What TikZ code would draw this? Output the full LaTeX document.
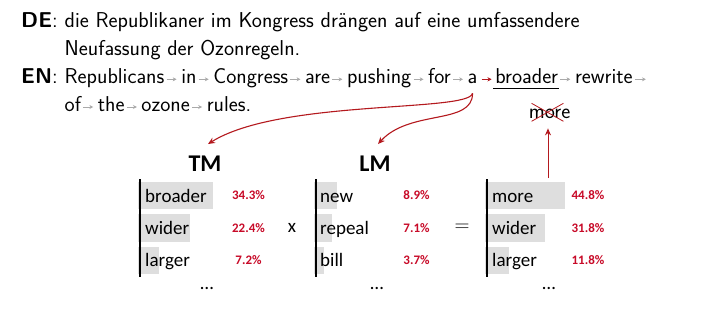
\documentclass[tikz,border=0pt]{standalone}
\usepackage{fontspec}
\newfontfamily\calfont{Carlito}
\usetikzlibrary{arrows.meta,positioning}
\definecolor{curvered}{RGB}{180,25,30}
\definecolor{pctred}{RGB}{200,10,40}
\definecolor{bargray}{RGB}{222,222,222}
\definecolor{arrowgray}{RGB}{170,170,170}
\begin{document}
\begin{tikzpicture}[x=1pt,y=-1pt,
  txt/.style={inner sep=0pt, anchor=base west, font=\sffamily\fontsize{21.5}{26}\selectfont},
  wordarrow/.style={draw=arrowgray, line width=0.9pt, -{Stealth[length=3.8pt,width=4pt]}},
  redwordarrow/.style={wordarrow, draw=curvered, -{Stealth[length=4.2pt,width=4.4pt]}},
  curve/.style={draw=curvered, line width=1.1pt, -{Stealth[length=7pt,width=6pt]}},
  crossline/.style={draw=curvered, line width=0.8pt},
  cell/.style={inner sep=0pt, anchor=base west, font=\calfont\fontsize{19}{22}\selectfont},
  pct/.style={inner sep=0pt, anchor=center, text=pctred, font=\calfont\bfseries\fontsize{13}{16}\selectfont},
  head/.style={inner sep=0pt, anchor=center, font=\calfont\bfseries\fontsize{24}{28}\selectfont},
  op/.style={inner sep=0pt, anchor=center, font=\calfont\fontsize{19}{22}\selectfont},
  bar/.style={fill=bargray},
  colbar/.style={line width=1.2pt}]
\useasboundingbox (0,0) rectangle (705,309);
\fill[white] (0,0) rectangle (705,309);

% German source
\node[txt] (de) at (21,27.7) {\textbf{DE}:};
\node[txt] (de1) at (64.5,27.7) {die Republikaner im Kongress drängen auf eine umfassendere};
\node[txt] (de2) at (64.5,55.2) {Neufassung der Ozonregeln.};

% English translation
\node[txt] (en) at (21,83.5) {\textbf{EN}:};
\node[txt] (w1) at (64.5,83.5) {Republicans};
\node[txt, base right=16.5pt of w1] (w2) {in};
\node[txt, base right=16.5pt of w2] (w3) {Congress};
\node[txt, base right=16.5pt of w3] (w4) {are};
\node[txt, base right=16.5pt of w4] (w5) {pushing};
\node[txt, base right=16.5pt of w5] (w6) {for};
\node[txt, base right=16.5pt of w6] (w7) {a};
\node[txt, base right=17.5pt of w7] (w8) {broader};
\node[txt, base right=16.5pt of w8] (w9) {rewrite};
\coordinate (eol) at ([xshift=13pt]w9.base east);
\node[txt] (v1) at (64.5,111.2) {of};
\node[txt, base right=16.5pt of v1] (v2) {the};
\node[txt, base right=16.5pt of v2] (v3) {ozone};
\node[txt, base right=16.5pt of v3] (v4) {rules.};

\foreach \a/\b in {w1/w2,w2/w3,w3/w4,w4/w5,w5/w6,w6/w7,w8/w9,v1/v2,v2/v3,v3/v4}
  \draw[wordarrow] ([xshift=2pt,yshift=4.2pt]\a.base east) -- ([xshift=-4.5pt,yshift=4.2pt]\b.base west);
\draw[wordarrow] ([xshift=2pt,yshift=4.2pt]w9.base east) -- ([yshift=4.2pt]eol);
\draw[redwordarrow] ([xshift=4pt,yshift=4.2pt]w7.base east) -- ([xshift=-3.5pt,yshift=4.2pt]w8.base west);
\draw[line width=0.8pt] ([xshift=-2pt,yshift=-4.8pt]w8.base west) -- ([xshift=0.5pt,yshift=-4.8pt]w8.base east);

% rejected word
\node[txt, anchor=base] (more) at (549.5,118.3) {more};
\draw[crossline] ([xshift=3pt,yshift=15pt]more.base west) -- ([xshift=-7pt,yshift=-3pt]more.base east);
\draw[crossline] ([xshift=3pt,yshift=-3pt]more.base west) -- ([xshift=-7pt,yshift=15pt]more.base east);

% headers
\node[head] (TM) at (205,164) {TM};
\node[head] (LM) at (375,164) {LM};

% curves
\coordinate (aBot) at ([yshift=-9.5pt]w7.south);
\draw[curve] (aBot) .. controls +(-4,19) and +(72,-45) .. ([xshift=3pt,yshift=12pt]TM.north);
\draw[curve] (aBot) .. controls +(0,32) and +(32,-35) .. ([xshift=3pt,yshift=12pt]LM.north);

% gray bars
\fill[bar] (138,182) rectangle (213,209);
\fill[bar] (138,214) rectangle (190,242);
\fill[bar] (138,247) rectangle (159,274);
\fill[bar] (314,182) rectangle (337,209);
\fill[bar] (314,214) rectangle (332,242);
\fill[bar] (314,247) rectangle (324,274);
\fill[bar] (485,182) rectangle (565,209);
\fill[bar] (485,214) rectangle (545,242);
\fill[bar] (485,247) rectangle (509,274);

% column lines
\draw[colbar] (140,179) -- (140,277);
\draw[colbar] (316,179) -- (316,277);
\draw[colbar] (487,179) -- (487,277);

% TM column
\node[cell] (t1) at (145,202) {broader};
\node[cell] (t2) at (145,234.3) {wider};
\node[cell] (t3) at (145,266.6) {larger};
\node[pct] (tp1) at (248.5,195.5) {34.3\%};
\node[pct] (tp2) at (248.5,228) {22.4\%};
\node[pct] (tp3) at (248.5,260.5) {7.2\%};
\node[op] (dt) at (207,288) {\ldots};

\node[op] (times) at (292,228) {x};

% LM column
\node[cell] (l1) at (320,202) {new};
\node[cell] (l2) at (320,234.3) {repeal};
\node[cell] (l3) at (320,266.6) {bill};
\node[pct] (lp1) at (416.5,195.5) {8.9\%};
\node[pct] (lp2) at (416.5,228) {7.1\%};
\node[pct] (lp3) at (416.5,260.5) {3.7\%};
\node[op] (dl) at (377,288) {\ldots};

\node[op, font=\fontsize{20}{24}\selectfont] (eq) at (462,228) {$=$};

% result column
\node[cell] (r1) at (492,202) {more};
\node[cell] (r2) at (492,234.3) {wider};
\node[cell] (r3) at (492,266.6) {larger};
\node[pct] (rp1) at (588,195.5) {44.8\%};
\node[pct] (rp2) at (588,228) {31.8\%};
\node[pct] (rp3) at (588,260.5) {11.8\%};
\node[op] (dr) at (549,288) {\ldots};

% selection arrow
\coordinate (resTop) at (548,178);
\draw[curve, line width=0.9pt, shorten >=9.7pt] (resTop) -- (resTop |- more.south);
\end{tikzpicture}
\end{document}
